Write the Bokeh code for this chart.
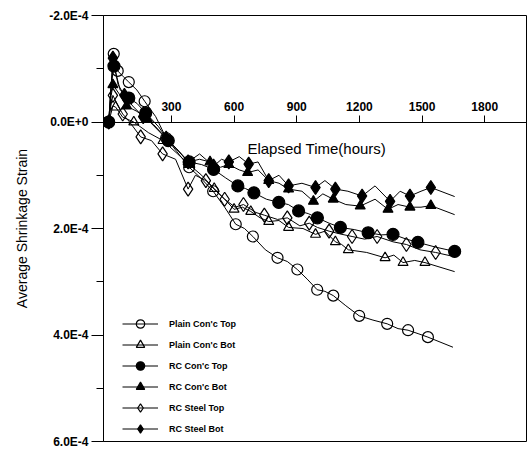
import numpy as np
from bokeh.plotting import figure
from bokeh.models import (Range1d, LinearAxis, FixedTicker, CustomJSTickFormatter,
                          Legend, LegendItem, Label)
from bokeh.embed import file_html
from bokeh.resources import INLINE

# ---- data (strain in units of 1E-4, positive = shrinkage) ----
pt_t = [0, 12, 24, 34, 43, 70, 96, 135, 172, 225, 275, 325, 385, 440, 500, 555, 608, 650,
        690, 750, 808, 855, 903, 950, 998, 1035, 1075, 1135, 1199, 1265, 1333, 1385, 1433,
        1485, 1528, 1648]
pt_s = [0, -0.7, -1.28, -1.1, -0.96, -0.85, -0.75, -0.6, -0.39, -0.1, 0.3, 0.55, 0.85, 1.05,
        1.3, 1.6, 1.92, 2.0, 2.15, 2.4, 2.55, 2.62, 2.77, 2.95, 3.15, 3.18, 3.26, 3.45, 3.64,
        3.72, 3.79, 3.88, 3.91, 3.98, 4.04, 4.23]

pb_t = [0, 20, 33, 67, 120, 190, 260, 330, 385, 445, 505, 555, 600, 640, 680, 725, 766, 815,
        861, 930, 990, 1035, 1085, 1115, 1147, 1235, 1323, 1365, 1409, 1465, 1514, 1656]
pb_s = [0, -0.3, -0.28, -0.09, 0.0, 0.2, 0.35, 0.6, 0.8, 1.0, 1.25, 1.45, 1.64, 1.6, 1.68,
        1.8, 1.87, 1.85, 1.98, 2.0, 2.11, 2.05, 2.25, 2.3, 2.4, 2.45, 2.55, 2.5, 2.64, 2.6,
        2.64, 2.81]

ct_t = [0, 12, 25, 55, 96, 135, 177, 239, 285, 335, 385, 445, 502, 560, 618, 655, 695, 755,
        814, 860, 909, 955, 999, 1055, 1109, 1175, 1242, 1305, 1361, 1425, 1480, 1565, 1656]
ct_s = [0, -0.7, -1.05, -0.6, -0.45, -0.35, -0.17, 0.09, 0.35, 0.55, 0.75, 0.8, 0.89, 1.05,
        1.2, 1.25, 1.33, 1.45, 1.51, 1.55, 1.67, 1.72, 1.8, 1.9, 1.98, 2.02, 2.08, 2.12, 2.11,
        2.2, 2.26, 2.35, 2.43]

cb_t = [0, 12, 20, 55, 85, 135, 185, 235, 285, 335, 380, 435, 485, 535, 575, 625, 665, 715,
        766, 815, 861, 925, 980, 1025, 1075, 1135, 1204, 1275, 1337, 1385, 1442, 1495, 1542,
        1656]
cb_s = [0, -0.5, -0.7, -0.5, -0.3, -0.2, -0.05, 0.15, 0.35, 0.55, 0.75, 0.7, 0.75, 0.85, 0.8,
        0.9, 0.95, 0.9, 1.1, 1.15, 1.26, 1.3, 1.49, 1.35, 1.45, 1.55, 1.58, 1.45, 1.64, 1.55,
        1.6, 1.6, 1.57, 1.74]

st_t = [0, 10, 20, 45, 67, 100, 153, 205, 258, 320, 380, 415, 465, 515, 555, 605, 645, 705,
        745, 808, 855, 915, 960, 999, 1055, 1105, 1165, 1225, 1285, 1361, 1425, 1490, 1565,
        1656]
st_s = [0, -0.3, -0.5, -0.3, -0.15, 0.0, 0.28, 0.35, 0.6, 0.7, 1.26, 1.0, 1.1, 1.3, 1.45,
        1.6, 1.55, 1.7, 1.75, 1.83, 1.8, 1.95, 1.9, 1.98, 2.05, 2.1, 2.15, 2.2, 2.15, 2.25,
        2.3, 2.4, 2.45, 2.53]

sb_t = [0, 12, 20, 45, 75, 115, 165, 215, 275, 325, 380, 435, 502, 540, 575, 625, 670, 715,
        766, 815, 861, 925, 990, 1035, 1085, 1145, 1213, 1275, 1347, 1395, 1442, 1495, 1542,
        1656]
sb_s = [0, -0.7, -1.2, -0.7, -0.5, -0.3, -0.1, 0.05, 0.3, 0.5, 0.75, 0.6, 0.83, 0.7, 0.75,
        0.65, 0.79, 0.75, 1.1, 1.0, 1.2, 1.15, 1.23, 1.1, 1.26, 1.3, 1.39, 1.2, 1.49, 1.3,
        1.39, 1.3, 1.23, 1.40]

series_names = ["Plain Con'c Top", "Plain Con'c Bot", "RC Con'c Top",
                "RC Con'c Bot", "RC Steel Top", "RC Steel Bot"]
x_ticks = [300, 600, 900, 1200, 1500, 1800]
y_major = [-2e-4, 0.0, 2e-4, 4e-4, 6e-4]
y_minor = [-1e-4, 1e-4, 3e-4, 5e-4]
UNIT = 1e-4

FONT = "Liberation Sans"

p = figure(width=529, height=458, output_backend="svg", toolbar_location=None,
           x_range=Range1d(-25, 2000), y_range=Range1d(6e-4, -2e-4),
           x_axis_location=None,
           min_border_left=103, min_border_right=3, min_border_top=15, min_border_bottom=17)
p.grid.visible = False
p.outline_line_color = "black"
p.outline_line_width = 1
p.background_fill_color = "white"
p.border_fill_color = "white"

# y axis
ya = p.yaxis[0]
ya.ticker = FixedTicker(ticks=y_major, minor_ticks=y_minor)
ya.formatter = CustomJSTickFormatter(code="return tick.toExponential(1).toUpperCase();")
ya.major_tick_out = 12
ya.major_tick_in = 0
ya.minor_tick_out = 7
ya.minor_tick_in = 0
ya.major_label_standoff = 3
ya.major_label_text_font = FONT
ya.major_label_text_font_style = "bold"
ya.major_label_text_font_size = "12px"
ya.major_label_text_color = "black"
ya.axis_label = "Average Shrinkage Strain"
ya.axis_label_text_font = FONT
ya.axis_label_text_font_style = "normal"
ya.axis_label_text_font_size = "14px"
ya.axis_label_text_color = "black"
ya.axis_label_standoff = 16
ya.axis_line_color = "black"
ya.major_tick_line_color = "black"
ya.minor_tick_line_color = "black"

# x axis crossing at y = 0
xa = LinearAxis(fixed_location=0, ticker=FixedTicker(ticks=x_ticks, minor_ticks=[]),
                major_tick_out=7, major_tick_in=0, minor_tick_out=0, minor_tick_in=0,
                major_label_standoff=4,
                major_label_text_font=FONT, major_label_text_font_style="bold",
                major_label_text_font_size="12px", major_label_text_color="black",
                axis_line_color="black", major_tick_line_color="black")
p.add_layout(xa, "above")

p.add_layout(Label(x=664, y=0.5e-4, text="Elapsed Time(hours)", text_font=FONT,
                   text_font_size="15px", text_baseline="middle", text_align="left",
                   text_color="black"))

specs = [
    (pt_t, pt_s, "circle", 11, None),
    (pb_t, pb_s, "triangle", 10, None),
    (ct_t, ct_s, "circle", 12, "black"),
    (cb_t, cb_s, "triangle", 10, "black"),
    (st_t, st_s, "diamond", 14, None),
    (sb_t, sb_s, "diamond", 14, "black"),
]

items = []
for name, (t, s, mk, sz, fc) in zip(series_names, specs):
    t = np.array(t, dtype=float)
    s = np.array(s, dtype=float) * UNIT
    lr = p.line(t, s, line_color="black", line_width=1)
    sr = p.scatter(t[::2], s[::2], marker=mk, size=sz, line_color="black", line_width=1.2,
                   fill_color=fc if fc else None)
    items.append(LegendItem(label=name, renderers=[lr, sr]))

legend = Legend(items=items, location=(19, 2), padding=0, margin=0, spacing=0,
                glyph_width=36, glyph_height=21, label_height=21, label_standoff=11,
                label_text_font=FONT, label_text_font_style="bold",
                label_text_font_size="9px", label_text_color="black",
                border_line_alpha=0, background_fill_alpha=0)
p.add_layout(legend)

open("out.html", "w").write(file_html(p, INLINE))
